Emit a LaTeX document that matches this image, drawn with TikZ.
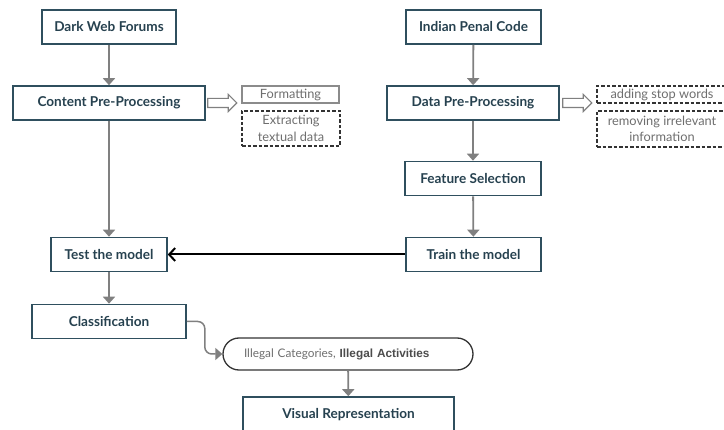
\documentclass[tikz,border=0pt]{standalone}
\usepackage{fontspec}
\setmainfont{Lato}
\newfontfamily\arialfont{Liberation Sans}
\usepackage{tikz}
\usetikzlibrary{positioning,arrows.meta,shapes.arrows}
\definecolor{boxline}{HTML}{2F4F5E}
\definecolor{boxtext}{HTML}{26414F}
\definecolor{flowgray}{HTML}{808080}
\definecolor{notegray}{HTML}{6E6E6E}

\begin{document}
\begin{tikzpicture}[x=1pt,y=-1pt,
  stage/.style={draw=boxline,line width=1.6pt,text=boxtext,inner sep=2pt,
                font=\fontsize{13.6}{16}\selectfont\bfseries,minimum height=34pt},
  note/.style={draw=notegray!80,line width=1.2pt,text=notegray,inner sep=1pt,
               align=center,font=\fontsize{12.8}{16.5}\selectfont},
  dashnote/.style={note,draw=black!80,dash pattern=on 3.5pt off 2pt},
  flow/.style={draw=flowgray,line width=1.8pt,-{Triangle[length=7pt,width=12pt]}},
  hollow/.style={single arrow,draw=flowgray,line width=1.1pt,inner xsep=0pt,inner ysep=4pt,
                 minimum height=29pt,single arrow head extend=4pt}]
  \useasboundingbox (0,0) rectangle (724,430);

  % left column: forum data
  \node[stage,minimum width=134pt] (dwf) at (109,27) {Dark Web Forums};
  \node[stage,minimum width=192pt] (cpp) at (109,103) {Content Pre-Processing};
  \node[stage,minimum width=116pt] (test) at (109,254.5) {Test the model};
  \node[stage,minimum width=154pt] (cls) at (109,321.5) {Classification};

  % right column: penal code data
  \node[stage,minimum width=135pt] (ipc) at (473.5,27) {Indian Penal Code};
  \node[stage,minimum width=172pt] (dpp) at (473,103) {Data Pre-Processing};
  \node[stage,minimum width=136pt] (fsel) at (473,178.5) {Feature Selection};
  \node[stage,minimum width=135pt] (train) at (473.5,254.5) {Train the model};

  % pre-processing steps
  \node[hollow] (h1) at (220,103) {};
  \node[note,minimum width=97pt,minimum height=17pt] (fmt) at (290.5,94.5) {Formatting};
  \node[dashnote,minimum width=98pt,minimum height=35pt] (ext) at (291,128.5) {Extracting\\textual data};
  \node[hollow] (h2) at (575,103) {};
  \node[dashnote,minimum width=130pt,minimum height=17pt] (stop) at (662,94.5) {adding stop words};
  \node[dashnote,minimum width=130pt,minimum height=36pt] (irr) at (662,129) {removing irrelevant\\information};

  % output
  \node[draw=black!80,line width=1.3pt,rounded corners=16pt,minimum width=250pt,
        minimum height=32pt,text=notegray,font=\fontsize{11.8}{14}\selectfont,
        text width=208pt,inner xsep=21pt,align=left] (out) at (348,354)
        {Illegal Categories, {\arialfont\bfseries\color{black!70}Illegal Activities}};
  \node[stage,minimum width=211pt,minimum height=36pt] (vis) at (348.5,415) {Visual Representation};

  % connectors
  \draw[flow] (dwf) -- (cpp);
  \draw[flow] (cpp) -- (test);
  \draw[flow] (test) -- (cls);
  \draw[flow] (ipc) -- (dpp);
  \draw[flow] (dpp) -- (fsel);
  \draw[flow] (fsel) -- (train);
  \draw[black,line width=2pt,-{Straight Barb[length=6pt,width=13pt]}] (train) -- (test);
  \draw[flow,line width=1.5pt,rounded corners=7pt] (cls.east) -- ++(18,0) |- (out.west);
  \draw[flow] (out) -- (vis);
\end{tikzpicture}
\end{document}
